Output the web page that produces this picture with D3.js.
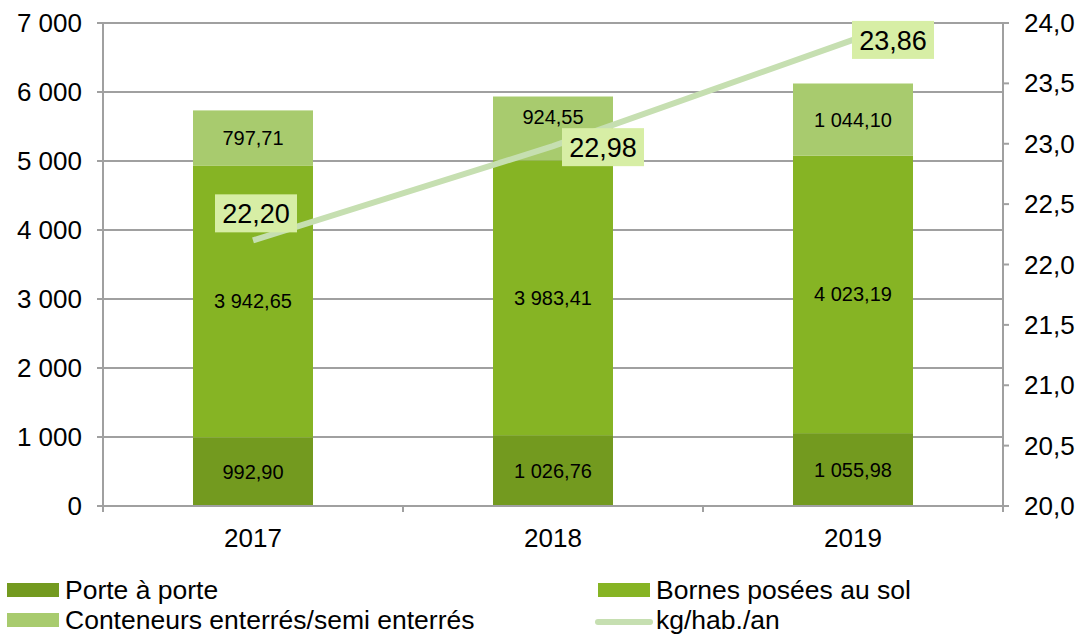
<!DOCTYPE html>
<html><head><meta charset="utf-8">
<script src="https://cdn.jsdelivr.net/npm/d3@7"></script>
<style>body{margin:0;background:#fff;}svg{display:block;font-family:"Liberation Sans",Arial,sans-serif;}</style>
</head><body>
<svg id="c" width="1085" height="637"></svg>
<script>
const years = ["2017","2018","2019"];
const porteAPorte = [992.90, 1026.76, 1055.98];
const bornes = [3942.65, 3983.41, 4023.19];
const conteneurs = [797.71, 924.55, 1044.10];
const kgHab = [22.20, 22.98, 23.86];
const leftTicks = [0,1000,2000,3000,4000,5000,6000,7000];
const rightTicks = [20.0,20.5,21.0,21.5,22.0,22.5,23.0,23.5,24.0];
const seriesNames = ["Porte à porte","Bornes posées au sol","Conteneurs enterrés/semi enterrés","kg/hab./an"];
const colors = ["#739a1f","#86b424","#a8cb6e"];
const lineColor = "#c6dfb1";
const labelBg = "#d7eea5";

const svg = d3.select("#c");
const L = 103, R = 1003, T = 23, B = 506;
const x = d3.scaleBand().domain(years).range([L,R]).paddingInner(0.6).paddingOuter(0.3);
const xb = d3.scaleBand().domain(years).range([L,R]);
const y = d3.scaleLinear().domain([0,7000]).range([B,T]);
const y2 = d3.scaleLinear().domain([20,24]).range([B,T]);

const frDec = v => d3.format(",.2f")(v).replace(/,/g," ").replace(".",",");
const frInt = v => d3.format(",")(v).replace(/,/g," ");

// gridlines
svg.append("g").selectAll("line").data(leftTicks.slice(1)).join("line")
  .attr("x1",L).attr("x2",R).attr("y1",d=>y(d)).attr("y2",d=>y(d))
  .attr("stroke","#a0a0a0").attr("stroke-width",2);

// stacked bars
const stackData = years.map((yr,i)=>({year:yr,a:porteAPorte[i],b:bornes[i],c:conteneurs[i]}));
const stack = d3.stack().keys(["a","b","c"])(stackData);
// small nudge for a label that would collide with a line label (2018 top segment)
const nudge = (si, yr) => (si===2 && yr==="2018") ? -11 : 0;
stack.forEach((s,si)=>{
  const g = svg.append("g");
  g.selectAll("rect").data(s).join("rect")
    .attr("x",d=>x(d.data.year)).attr("width",x.bandwidth())
    .attr("y",d=>y(d[1])).attr("height",d=>y(d[0])-y(d[1]))
    .attr("fill",colors[si]);
  g.selectAll("text").data(s).join("text")
    .attr("x",d=>x(d.data.year)+x.bandwidth()/2)
    .attr("y",d=>(y(d[0])+y(d[1]))/2 + 7 + nudge(si,d.data.year))
    .attr("text-anchor","middle").attr("font-size",20).attr("fill","#000")
    .text(d=>frDec(d[1]-d[0]));
});

// axes
const axG = svg.append("g").attr("stroke","#a0a0a0").attr("stroke-width",2);
axG.append("line").attr("x1",L).attr("x2",L).attr("y1",T).attr("y2",B+6);
axG.append("line").attr("x1",R).attr("x2",R).attr("y1",T).attr("y2",B+6);
axG.append("line").attr("x1",L-6).attr("x2",R+6).attr("y1",B).attr("y2",B);
leftTicks.forEach(t=>axG.append("line").attr("x1",L-6).attr("x2",L).attr("y1",y(t)).attr("y2",y(t)));
rightTicks.forEach(t=>axG.append("line").attr("x1",R).attr("x2",R+6).attr("y1",y2(t)).attr("y2",y2(t)));
[0,1,2,3].forEach(i=>{const xx = i<3? xb(years[i]) : R; axG.append("line").attr("x1",xx).attr("x2",xx).attr("y1",B).attr("y2",B+6);});

svg.append("g").selectAll("text").data(leftTicks).join("text")
  .attr("x",L-21).attr("y",d=>y(d)+9).attr("text-anchor","end").attr("font-size",26).text(d=>frInt(d));
svg.append("g").selectAll("text").data(rightTicks).join("text")
  .attr("x",R+21).attr("y",d=>y2(d)+9).attr("text-anchor","start").attr("font-size",26)
  .text(d=>d.toFixed(1).replace(".",","));
svg.append("g").selectAll("text").data(years).join("text")
  .attr("x",d=>xb(d)+xb.bandwidth()/2).attr("y",B+41).attr("text-anchor","middle").attr("font-size",26).text(d=>d);

// line
const lineData = years.map((yr,i)=>({year:yr,v:kgHab[i]}));
svg.append("path").datum(lineData)
  .attr("d",d3.line().x(d=>xb(d.year)+xb.bandwidth()/2).y(d=>y2(d.v)))
  .attr("fill","none").attr("stroke",lineColor).attr("stroke-width",6);

// line labels
const offs = [[3,-27],[50,1],[40,0]];
lineData.forEach((d,i)=>{
  const cx = xb(d.year)+xb.bandwidth()/2 + offs[i][0];
  const cy = y2(d.v) + offs[i][1];
  const w = 82, h = 38;
  svg.append("rect").attr("x",cx-w/2).attr("y",cy-h/2).attr("width",w).attr("height",h).attr("fill",labelBg);
  svg.append("text").attr("x",cx).attr("y",cy+10).attr("text-anchor","middle").attr("font-size",27)
    .text(d.v.toFixed(2).replace(".",","));
});

// legend
const leg = svg.append("g");
const legItems = [
  {x:7,y:590,type:"rect",c:colors[0],t:seriesNames[0]},
  {x:598,y:590,type:"rect",c:colors[1],t:seriesNames[1]},
  {x:7,y:620,type:"rect",c:colors[2],t:seriesNames[2]},
  {x:598,y:620,type:"line",c:lineColor,t:seriesNames[3]}
];
legItems.forEach(it=>{
  if(it.type==="rect"){
    leg.append("rect").attr("x",it.x).attr("y",it.y-7).attr("width",52).attr("height",14).attr("fill",it.c);
  } else {
    leg.append("line").attr("x1",it.x).attr("x2",it.x+52).attr("y1",it.y+2).attr("y2",it.y+2)
      .attr("stroke",it.c).attr("stroke-width",6).attr("stroke-linecap","round");
  }
  leg.append("text").attr("x",it.x+58).attr("y",it.y+9).attr("font-size",26.5).text(it.t);
});
</script>
</body></html>
